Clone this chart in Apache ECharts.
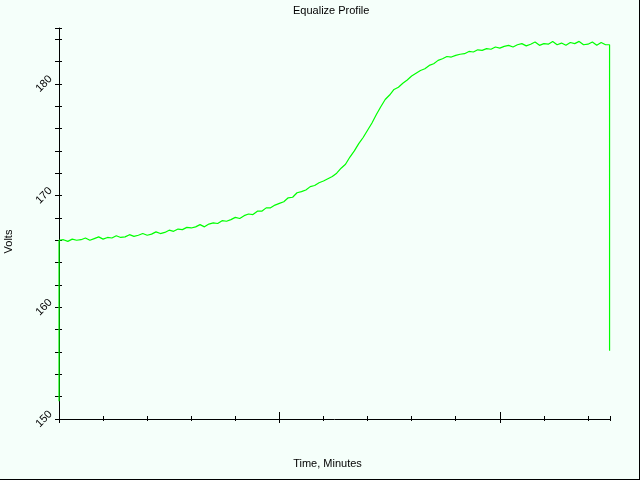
<!DOCTYPE html>
<html>
<head>
<meta charset="utf-8">
<script src="https://cdn.jsdelivr.net/npm/echarts@6/dist/echarts.min.js"></script>
<style>
html,body{margin:0;padding:0;background:#F5FFFA;}
#chart{width:640px;height:480px;box-sizing:border-box;border-right:1px solid #000;border-bottom:1px solid #000;background:#F5FFFA;}
</style>
</head>
<body>
<div id="chart"></div>
<script>
// ---- data ----
const titleText = "Equalize Profile";
const xName = "Time, Minutes";
const yName = "Volts";

const times = [
  0.0, 0.0, 0.1, 0.2, 0.3, 0.4, 0.5, 0.6, 0.7, 0.8, 0.9,
  1.0, 1.1, 1.2, 1.3, 1.4, 1.5, 1.6, 1.7, 1.8, 1.9,
  2.0, 2.1, 2.2, 2.3, 2.4, 2.5, 2.6, 2.7, 2.8, 2.9,
  3.0, 3.1, 3.2, 3.3, 3.4, 3.5, 3.6, 3.7, 3.8, 3.9,
  4.0, 4.1, 4.2, 4.3, 4.4, 4.5, 4.6, 4.7, 4.8, 4.9,
  5.0, 5.1, 5.2, 5.3, 5.4, 5.5, 5.6, 5.7, 5.8, 5.9,
  6.0, 6.1, 6.2, 6.3, 6.4, 6.5, 6.6, 6.7, 6.8, 6.9,
  7.0, 7.1, 7.2, 7.3, 7.4, 7.5, 7.6, 7.7, 7.8, 7.9,
  8.0, 8.1, 8.2, 8.3, 8.4, 8.5, 8.6, 8.7, 8.8, 8.9,
  9.0, 9.1, 9.2, 9.3, 9.4, 9.5, 9.6, 9.7, 9.8, 9.9,
  10.0, 10.1, 10.2, 10.3, 10.4, 10.5, 10.6, 10.7, 10.8, 10.9,
  11.0, 11.1, 11.2, 11.3, 11.4, 11.5, 11.6, 11.7, 11.8, 11.9,
  12.0, 12.1, 12.2, 12.3, 12.4, 12.49, 12.49
];
const volts = [
  151.6, 166.0, 166.05, 165.9, 166.1, 166.0, 166.05, 166.2, 166.0, 166.15, 166.3,
  166.1, 166.25, 166.2, 166.4, 166.25, 166.3, 166.5, 166.35, 166.45, 166.6,
  166.45, 166.55, 166.75, 166.6, 166.7, 166.9, 166.8, 167.0, 166.95, 167.15,
  167.1, 167.2, 167.4, 167.2, 167.45, 167.55, 167.5, 167.75, 167.7, 167.85,
  168.05, 167.95, 168.2, 168.35, 168.3, 168.6, 168.6, 168.9, 168.9, 169.15,
  169.3, 169.45, 169.8, 169.85, 170.25, 170.35, 170.5, 170.8, 170.9, 171.15,
  171.3, 171.5, 171.7, 172.0, 172.45, 172.8, 173.45, 174.0, 174.65, 175.2,
  175.85, 176.5, 177.25, 177.95, 178.6, 179.0, 179.5, 179.7, 180.05, 180.35,
  180.7, 180.95, 181.2, 181.35, 181.65, 181.8, 182.1, 182.25, 182.45, 182.4,
  182.55, 182.65, 182.7, 182.9, 182.85, 183.05, 183.0, 183.15, 183.1, 183.3,
  183.2, 183.35, 183.45, 183.3, 183.5, 183.6, 183.4, 183.55, 183.75, 183.45,
  183.6, 183.55, 183.8, 183.5, 183.65, 183.45, 183.7, 183.6, 183.8, 183.5,
  183.55, 183.75, 183.45, 183.7, 183.5, 183.5, 156.1
];

const yMin = 150, yMax = 185;
const yLabelValues = [150, 160, 170, 180];
const yTickValues = [150,152,154,156,158,160,162,164,166,168,170,172,174,176,178,180,182,184,185];
const xMin = 0, xMax = 12.5;
const xMajorTicks = [0, 5, 10];
const xMinorTicks = [1, 2, 3, 4, 6, 7, 8, 9, 11, 12, 12.5];

// ---- chart ----
const seriesData = times.map((t, i) => [t, volts[i]]);
const FONT = '"Liberation Sans", Arial, sans-serif';
const black = '#000';

const chart = echarts.init(document.getElementById('chart'), null, {renderer: 'canvas'});
const hiddenBits = {
  splitLine: {show: false},
  axisLabel: {show: false}
};
chart.setOption({
  animation: false,
  backgroundColor: '#F5FFFA',
  title: {
    text: titleText,
    left: 288, top: 0,
    textStyle: {fontFamily: FONT, fontSize: 11, fontWeight: 'normal', color: black}
  },
  grid: {left: 59, top: 28, right: 29, bottom: 60, outerBoundsMode: 'none', containLabel: false},
  xAxis: [
    {
      type: 'value', min: xMin, max: xMax, position: 'bottom',
      axisLine: {show: true, lineStyle: {color: black, width: 1}},
      axisTick: {show: false},
      axisLabel: {show: false},
      splitLine: {show: false},
      name: xName, nameLocation: 'middle', nameGap: 39,
      nameTextStyle: {fontFamily: FONT, fontSize: 11, color: black, padding: [0, 14, 0, 0]}
    },
    {
      type: 'value', min: xMin, max: xMax, position: 'bottom', offset: -7,
      axisLine: {show: false},
      axisTick: {show: true, inside: false, length: 11, customValues: xMajorTicks, lineStyle: {color: black, width: 1}},
      ...hiddenBits
    },
    {
      type: 'value', min: xMin, max: xMax, position: 'bottom', offset: -3,
      axisLine: {show: false},
      axisTick: {show: true, inside: false, length: 5, customValues: xMinorTicks, lineStyle: {color: black, width: 1}},
      ...hiddenBits
    }
  ],
  yAxis: [
    {
      type: 'value', min: yMin, max: yMax, position: 'left',
      axisLine: {show: true, lineStyle: {color: black, width: 1}},
      axisTick: {show: false},
      axisLabel: {
        show: true, customValues: yLabelValues, rotate: 45, margin: 15,
        align: 'center', verticalAlign: 'middle',
        fontFamily: FONT, fontSize: 11, color: black
      },
      splitLine: {show: false},
      name: yName, nameLocation: 'middle', nameGap: 45, nameRotate: 90,
      nameTextStyle: {fontFamily: FONT, fontSize: 11, color: black, padding: [0, 36, 0, 0]}
    },
    {
      type: 'value', min: yMin, max: yMax, position: 'left', offset: -3,
      axisLine: {show: false},
      axisTick: {show: true, inside: false, length: 7, customValues: yTickValues, lineStyle: {color: black, width: 1}},
      ...hiddenBits
    }
  ],
  series: [{
    type: 'line',
    xAxisIndex: 0, yAxisIndex: 0,
    data: seriesData,
    showSymbol: false,
    symbol: 'none',
    lineStyle: {color: '#00ff00', width: 1.2},
    itemStyle: {color: '#00ff00'},
    clip: false
  }]
});
</script>
</body>
</html>
